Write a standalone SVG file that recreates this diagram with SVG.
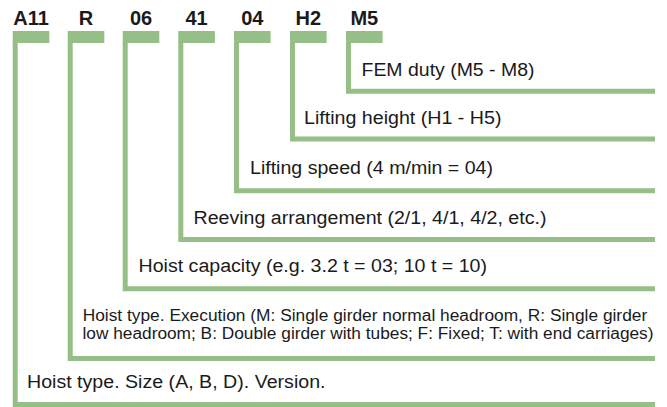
<svg xmlns="http://www.w3.org/2000/svg" width="667" height="407" viewBox="0 0 667 407">
<style>
.code{font-family:"Liberation Sans",Arial,sans-serif;font-weight:bold;font-size:20px;fill:#1a1a1a;text-anchor:middle}
.desc{font-family:"Liberation Sans",Arial,sans-serif;font-size:18px;fill:#1a1a1a}
.small{font-family:"Liberation Sans",Arial,sans-serif;font-size:16px;fill:#1a1a1a}
.flag{fill:#95bf86}
.conn{fill:none;stroke:#95bf86;stroke-width:5;stroke-linejoin:miter;stroke-linecap:butt}
</style>
<rect width="667" height="407" fill="#ffffff"/>
<g id="connectors">
<path class="conn" d="M15.2 42 V404.5 H655"/>
<path class="conn" d="M70.2 42 V358.5 H655"/>
<path class="conn" d="M125.2 42 V288.7 H655"/>
<path class="conn" d="M180.8 42 V239.5 H655"/>
<path class="conn" d="M236.5 42 V190.8 H655"/>
<path class="conn" d="M292.5 42 V139 H655"/>
<path class="conn" d="M348.5 42 V91.3 H655"/>
</g>
<g id="code-A11"><rect class="flag" x="12.7" y="31" width="36.6" height="12"/><text class="code" x="31" y="25">A11</text></g>
<g id="code-R"><rect class="flag" x="67.7" y="31" width="36.6" height="12"/><text class="code" x="86" y="25">R</text></g>
<g id="code-06"><rect class="flag" x="122.7" y="31" width="36.6" height="12"/><text class="code" x="141" y="25">06</text></g>
<g id="code-41"><rect class="flag" x="178.3" y="31" width="36.6" height="12"/><text class="code" x="196.6" y="25">41</text></g>
<g id="code-04"><rect class="flag" x="234" y="31" width="36.6" height="12"/><text class="code" x="252.3" y="25">04</text></g>
<g id="code-H2"><rect class="flag" x="290" y="31" width="36.6" height="12"/><text class="code" x="308.3" y="25">H2</text></g>
<g id="code-M5"><rect class="flag" x="346" y="31" width="36.6" height="12"/><text class="code" x="364.3" y="25">M5</text></g>
<g id="desc-fem"><text class="desc" x="361.5" y="75.5" textLength="173" lengthAdjust="spacingAndGlyphs">FEM duty (M5 - M8)</text></g>
<g id="desc-height"><text class="desc" x="304" y="123.5" textLength="197.5" lengthAdjust="spacingAndGlyphs">Lifting height (H1 - H5)</text></g>
<g id="desc-speed"><text class="desc" x="250" y="173.8" textLength="243" lengthAdjust="spacingAndGlyphs">Lifting speed (4 m/min = 04)</text></g>
<g id="desc-reeving"><text class="desc" x="193.5" y="223.8" textLength="353" lengthAdjust="spacingAndGlyphs">Reeving arrangement (2/1, 4/1, 4/2, etc.)</text></g>
<g id="desc-capacity"><text class="desc" x="138.5" y="272.2" textLength="348.5" lengthAdjust="spacingAndGlyphs">Hoist capacity (e.g. 3.2 t = 03; 10 t = 10)</text></g>
<g id="desc-execution">
<text class="small" x="82.7" y="321" textLength="564.5" lengthAdjust="spacingAndGlyphs">Hoist type. Execution (M: Single girder normal headroom, R: Single girder</text>
<text class="small" x="82.5" y="339" textLength="571" lengthAdjust="spacingAndGlyphs">low headroom; B: Double girder with tubes; F: Fixed; T: with end carriages)</text>
</g>
<g id="desc-size"><text class="desc" x="27" y="387.8" textLength="298.5" lengthAdjust="spacingAndGlyphs">Hoist type. Size (A, B, D). Version.</text></g>
</svg>
